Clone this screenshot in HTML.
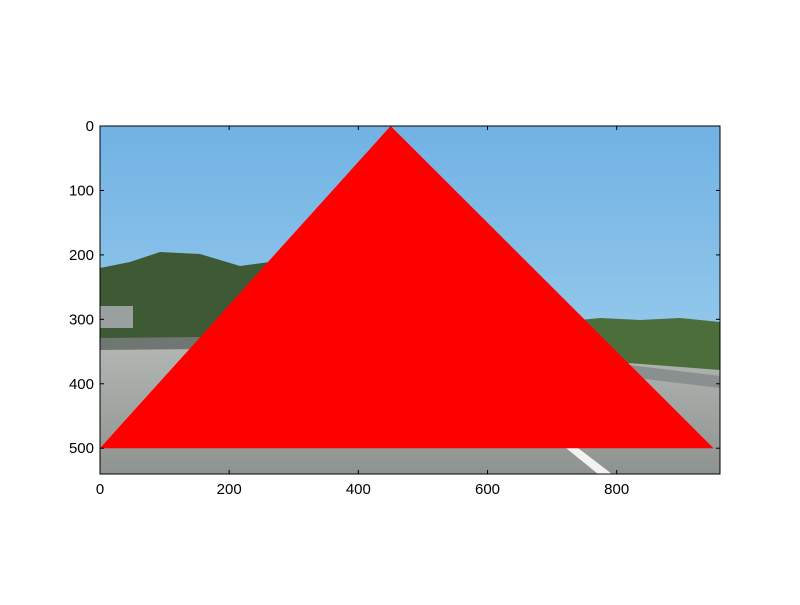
<!DOCTYPE html>
<html><head><meta charset="utf-8"><style>
body{margin:0;background:#fff;width:800px;height:600px;overflow:hidden;font-family:"Liberation Sans",sans-serif}
svg text{font-family:"Liberation Sans",sans-serif;font-size:15px;fill:#000}
</style></head><body>
<svg id="chart" width="800" height="600" viewBox="0 0 800 600">
<defs>
<linearGradient id="sky" x1="0" y1="0" x2="0" y2="1"><stop offset="0" stop-color="#71b2e4"/><stop offset="1" stop-color="#a9d6ef"/></linearGradient>
<linearGradient id="road" x1="0" y1="0" x2="0" y2="1"><stop offset="0" stop-color="#b5b9b6"/><stop offset="1" stop-color="#8e938f"/></linearGradient>
<clipPath id="ax"><rect x="100" y="126" width="620" height="348"/></clipPath>
</defs>
<g id="bg" clip-path="url(#ax)"></g>
<polygon id="tri" fill="#ff0000"/>
<rect x="100" y="126" width="620" height="348" fill="none" stroke="#000" stroke-width="1"/>
<g id="ticks"></g>
</svg>
<script>
const triX=[0,450,950];
const triY=[500,0,500];
const xTicks=[0,200,400,600,800];
const yTicks=[0,100,200,300,400,500];
const imgW=960, imgH=540;
const L=100,T=126,W=620,H=348;
function sx(v){return L+v*W/imgW;}
function sy(v){return T+v*H/imgH;}
const NS="http://www.w3.org/2000/svg";
function mk(t,a,p){const e=document.createElementNS(NS,t);for(const k in a)e.setAttribute(k,a[k]);p.appendChild(e);return e;}
const bg=document.getElementById('bg');
// photo-like background
let e;
e=mk('rect',{x:100,y:126,width:620,height:348,fill:'url(#sky)'},bg);


e=mk('polygon',{points:'100,268 130,262 160,252 200,254 240,266 270,262 300,270 300,345 100,345',fill:'#3d5a34'},bg);


e=mk('polygon',{points:'560,322 600,318 640,320 680,318 720,322 720,372 560,372',fill:'#4b6e3a'},bg);


e=mk('rect',{x:100,y:306,width:33,height:22,fill:'#9aa0a0'},bg);


e=mk('polygon',{points:'100,340 300,338 720,370 720,474 100,474',fill:'url(#road)'},bg);


e=mk('polygon',{points:'100,338 300,336 300,348 100,350',fill:'#707672'},bg);


e=mk('polygon',{points:'620,364 720,376 720,388 620,376',fill:'#8a8f90'},bg);


e=mk('polygon',{points:'566,448 578,448 612,474 598,474',fill:'#f2f2f2'},bg);


// triangle
document.getElementById('tri').setAttribute('points',triX.map((x,i)=>sx(x)+','+sy(triY[i])).join(' '));
const tg=document.getElementById('ticks');
xTicks.forEach(v=>{
  const x=sx(v);
  mk('line',{x1:x,y1:T+H,x2:x,y2:T+H-4,stroke:'#000'},tg);
  mk('line',{x1:x,y1:T,x2:x,y2:T+4,stroke:'#000'},tg);
  const t=mk('text',{x:x,y:T+H+20,'text-anchor':'middle'},tg);t.textContent=v;
  
  
});
yTicks.forEach(v=>{
  const y=sy(v);
  mk('line',{x1:L,y1:y,x2:L+4,y2:y,stroke:'#000'},tg);
  mk('line',{x1:L+W,y1:y,x2:L+W-4,y2:y,stroke:'#000'},tg);
  const t=mk('text',{x:L-6,y:y+5,'text-anchor':'end'},tg);t.textContent=v;
  
  
});
</script>
</body></html>
